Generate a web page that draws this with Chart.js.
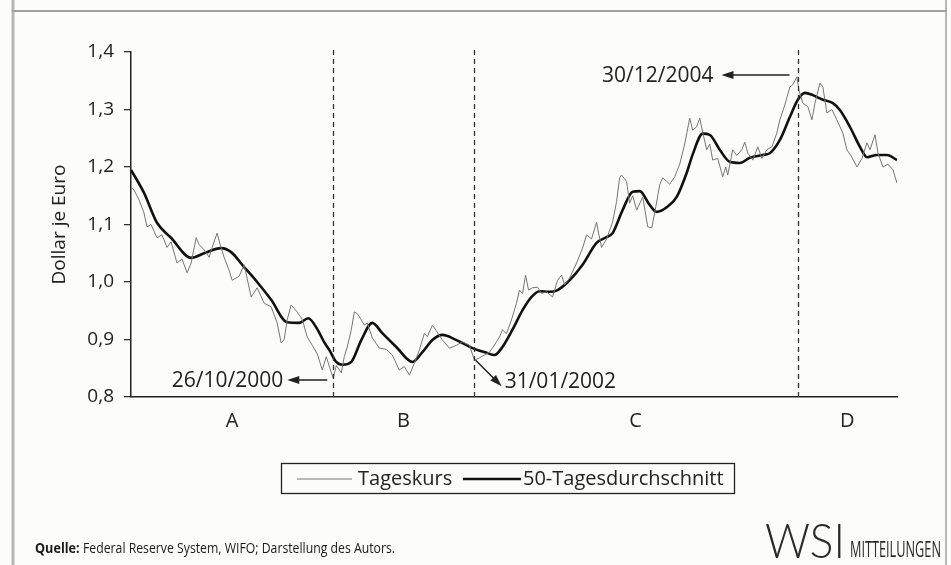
<!DOCTYPE html>
<html>
<head>
<meta charset="utf-8">
<script src="https://cdn.jsdelivr.net/npm/chart.js@4.4.1/dist/chart.umd.min.js"></script>
<style>
  html, body { margin: 0; padding: 0; background: #fcfcfa; }
  #wrap { width: 951px; height: 565px; }
</style>
</head>
<body>
<div id="wrap"><canvas id="chart" width="951" height="565"></canvas></div>
<script>
// Tageskurs (Dollar je Euro), x als Dezimaljahr
const kursJahr = [
  1999.000, 1999.027, 1999.072, 1999.117, 1999.144, 1999.180, 1999.234, 1999.279, 1999.324, 1999.360,
  1999.414, 1999.459, 1999.505, 1999.541, 1999.586, 1999.613, 1999.658, 1999.703, 1999.730, 1999.775,
  1999.802, 1999.838, 1999.883, 1999.910, 1999.973, 2000.018, 2000.081, 2000.135, 2000.198, 2000.261,
  2000.315, 2000.351, 2000.378, 2000.405, 2000.441, 2000.495, 2000.541, 2000.586, 2000.631, 2000.676,
  2000.721, 2000.757, 2000.802, 2000.820, 2000.847, 2000.892, 2000.919, 2000.946, 2000.982, 2001.009,
  2001.036, 2001.072, 2001.099, 2001.126, 2001.171, 2001.234, 2001.297, 2001.351, 2001.414, 2001.459,
  2001.505, 2001.550, 2001.595, 2001.640, 2001.667, 2001.712, 2001.748, 2001.802, 2001.865, 2001.928,
  2001.982, 2002.045, 2002.090, 2002.135, 2002.180, 2002.225, 2002.252, 2002.315, 2002.342, 2002.378,
  2002.423, 2002.468, 2002.495, 2002.523, 2002.550, 2002.577, 2002.613, 2002.658, 2002.694, 2002.739,
  2002.793, 2002.838, 2002.874, 2002.901, 2002.946, 2003.009, 2003.063, 2003.099, 2003.144, 2003.189,
  2003.207, 2003.234, 2003.279, 2003.333, 2003.369, 2003.396, 2003.414, 2003.459, 2003.486, 2003.514,
  2003.550, 2003.604, 2003.649, 2003.685, 2003.712, 2003.757, 2003.784, 2003.820, 2003.847, 2003.892,
  2003.937, 2003.982, 2004.027, 2004.054, 2004.090, 2004.117, 2004.144, 2004.180, 2004.207, 2004.234,
  2004.279, 2004.324, 2004.351, 2004.369, 2004.414, 2004.450, 2004.495, 2004.523, 2004.550, 2004.595,
  2004.640, 2004.676, 2004.721, 2004.766, 2004.811, 2004.838, 2004.883, 2004.928, 2004.955, 2004.991,
  2005.009, 2005.045, 2005.090, 2005.126, 2005.153, 2005.198, 2005.225, 2005.261, 2005.306, 2005.351,
  2005.405, 2005.441, 2005.486, 2005.532, 2005.577, 2005.622, 2005.649, 2005.694, 2005.721, 2005.766,
  2005.811, 2005.856, 2005.892
];
const kursWert = [
  1.165, 1.160, 1.143, 1.120, 1.096, 1.100, 1.077, 1.082, 1.060, 1.070,
  1.033, 1.040, 1.016, 1.033, 1.077, 1.065, 1.056, 1.043, 1.060, 1.085,
  1.065, 1.043, 1.020, 1.003, 1.010, 1.030, 0.974, 0.990, 0.963, 0.957,
  0.929, 0.894, 0.900, 0.934, 0.960, 0.948, 0.935, 0.904, 0.890, 0.875,
  0.847, 0.870, 0.843, 0.833, 0.855, 0.842, 0.870, 0.887, 0.917, 0.948,
  0.945, 0.934, 0.925, 0.929, 0.903, 0.885, 0.883, 0.873, 0.847, 0.853,
  0.838, 0.859, 0.882, 0.911, 0.905, 0.925, 0.915, 0.899, 0.885, 0.890,
  0.896, 0.890, 0.864, 0.868, 0.873, 0.878, 0.885, 0.904, 0.917, 0.910,
  0.934, 0.963, 0.986, 0.980, 1.012, 0.986, 0.990, 0.991, 0.980, 0.983,
  0.974, 1.003, 1.012, 0.995, 1.007, 1.033, 1.059, 1.082, 1.075, 1.104,
  1.085, 1.060, 1.075, 1.104, 1.140, 1.181, 1.186, 1.175, 1.137, 1.150,
  1.125, 1.148, 1.096, 1.094, 1.120, 1.169, 1.181, 1.175, 1.170, 1.183,
  1.205, 1.240, 1.285, 1.264, 1.270, 1.285, 1.260, 1.230, 1.240, 1.212,
  1.215, 1.183, 1.200, 1.186, 1.230, 1.220, 1.230, 1.243, 1.224, 1.212,
  1.235, 1.215, 1.230, 1.235, 1.259, 1.282, 1.308, 1.339, 1.343, 1.357,
  1.334, 1.311, 1.305, 1.282, 1.310, 1.346, 1.339, 1.294, 1.300, 1.282,
  1.259, 1.230, 1.217, 1.200, 1.215, 1.242, 1.230, 1.256, 1.224, 1.200,
  1.205, 1.195, 1.172
];

// 50-Tagesdurchschnitt
const schnittJahr = [
  1999.000, 1999.117, 1999.234, 1999.360, 1999.541, 1999.658, 1999.811, 1999.901, 2000.018, 2000.135,
  2000.261, 2000.405, 2000.514, 2000.595, 2000.676, 2000.739, 2000.784, 2000.847, 2000.901, 2000.982,
  2001.072, 2001.171, 2001.261, 2001.387, 2001.532, 2001.622, 2001.712, 2001.802, 2001.928, 2002.072,
  2002.198, 2002.270, 2002.342, 2002.432, 2002.523, 2002.604, 2002.676, 2002.766, 2002.838, 2002.946,
  2003.063, 2003.189, 2003.279, 2003.333, 2003.423, 2003.514, 2003.577, 2003.667, 2003.730, 2003.820,
  2003.910, 2004.000, 2004.054, 2004.144, 2004.207, 2004.297, 2004.387, 2004.477, 2004.568, 2004.685,
  2004.748, 2004.838, 2004.928, 2005.000, 2005.063, 2005.135, 2005.225, 2005.315, 2005.378, 2005.468,
  2005.559, 2005.622, 2005.712, 2005.802, 2005.892
];
const schnittWert = [
  1.195, 1.155, 1.103, 1.077, 1.042, 1.050, 1.059, 1.052, 1.026, 1.000,
  0.969, 0.930, 0.929, 0.937, 0.918, 0.895, 0.882, 0.861, 0.856, 0.861,
  0.899, 0.929, 0.911, 0.887, 0.861, 0.878, 0.899, 0.908, 0.899, 0.885,
  0.877, 0.873, 0.887, 0.917, 0.951, 0.974, 0.984, 0.983, 0.986, 1.003,
  1.030, 1.068, 1.078, 1.085, 1.125, 1.157, 1.158, 1.134, 1.122, 1.130,
  1.148, 1.190, 1.222, 1.258, 1.256, 1.230, 1.209, 1.207, 1.216, 1.221,
  1.224, 1.247, 1.287, 1.317, 1.329, 1.325, 1.317, 1.311, 1.299, 1.270,
  1.235, 1.217, 1.221, 1.221, 1.212
];

const abschnitte = ['A', 'B', 'C', 'D'];
const abschnittGrenzen = [1999.0, 2000.82, 2002.083, 2004.997, 2005.892];
const markenDatum = ['26/10/2000', '31/01/2002', '30/12/2004'];
const markenJahr = [2000.82, 2002.083, 2004.997];
const markenWert = [0.833, 0.864, 1.36];

const yMin = 0.8, yMax = 1.4, yStep = 0.1;
const quelle = 'Federal Reserve System, WIFO; Darstellung des Autors.';

const FONT = "'Open Sans', 'Noto Sans', sans-serif";

function pfeil(ctx, x1, y1, x2, y2) {
  const a = Math.atan2(y2 - y1, x2 - x1);
  ctx.beginPath();
  ctx.moveTo(x1, y1);
  ctx.lineTo(x2 - 6 * Math.cos(a), y2 - 6 * Math.sin(a));
  ctx.stroke();
  ctx.beginPath();
  ctx.moveTo(x2, y2);
  ctx.lineTo(x2 - 12 * Math.cos(a) + 4 * Math.sin(a), y2 - 12 * Math.sin(a) - 4 * Math.cos(a));
  ctx.lineTo(x2 - 12 * Math.cos(a) - 4 * Math.sin(a), y2 - 12 * Math.sin(a) + 4 * Math.cos(a));
  ctx.closePath();
  ctx.fill();
}

// Text horizontal auf eine Breite stauchen
function textBreite(ctx, text, x, y, breite) {
  const w = ctx.measureText(text).width;
  const f = Math.min(1, breite / w);
  ctx.save();
  ctx.translate(x, y);
  ctx.scale(f, 1);
  ctx.fillText(text, 0, 0);
  ctx.restore();
  return w * f;
}

const rahmen = {
  id: 'rahmen',
  beforeDraw(chart) {
    const ctx = chart.ctx;
    ctx.save();
    ctx.fillStyle = '#fcfcfa';
    ctx.fillRect(0, 0, chart.width, chart.height);
    ctx.strokeStyle = '#b8b8b8';
    ctx.lineWidth = 3;
    ctx.beginPath(); ctx.moveTo(13, 0); ctx.lineTo(13, 565); ctx.stroke();
    ctx.lineWidth = 2;
    ctx.beginPath(); ctx.moveTo(946, 0); ctx.lineTo(946, 565); ctx.stroke();
    ctx.strokeStyle = '#a0a0a0';
    ctx.beginPath(); ctx.moveTo(12, 11); ctx.lineTo(947, 11); ctx.stroke();
    ctx.restore();
  }
};

const beschriftung = {
  id: 'beschriftung',
  afterDraw(chart) {
    const ctx = chart.ctx;
    const xs = chart.scales.x, ys = chart.scales.y;
    const top = ys.getPixelForValue(yMax) - 2, bottom = ys.getPixelForValue(yMin);
    ctx.save();
    // gestrichelte Trennlinien
    ctx.strokeStyle = '#333';
    ctx.lineWidth = 1.3;
    ctx.setLineDash([5, 4]);
    markenJahr.forEach(j => {
      const x = Math.round(xs.getPixelForValue(j)) + 0.5;
      ctx.beginPath(); ctx.moveTo(x, top); ctx.lineTo(x, bottom); ctx.stroke();
    });
    ctx.setLineDash([]);

    // Datumsmarken mit Pfeilen
    ctx.fillStyle = '#222';
    ctx.strokeStyle = '#222';
    ctx.lineWidth = 1.5;
    ctx.font = '21px ' + FONT;
    ctx.textBaseline = 'middle';

    let x = xs.getPixelForValue(markenJahr[0]), y = ys.getPixelForValue(markenWert[0]) + 2;
    pfeil(ctx, x - 6, y, x - 46, y);
    ctx.textAlign = 'right';
    ctx.fillText(markenDatum[0], x - 50, y + 1);

    x = xs.getPixelForValue(markenJahr[1]); y = ys.getPixelForValue(markenWert[1]);
    pfeil(ctx, x + 2, y, x + 28, y + 26);
    ctx.textAlign = 'left';
    ctx.fillText(markenDatum[1], x + 31, y + 22);

    x = xs.getPixelForValue(markenJahr[2]); y = ys.getPixelForValue(markenWert[2]);
    pfeil(ctx, x - 8, y, x - 76, y);
    ctx.textAlign = 'right';
    ctx.fillText(markenDatum[2], x - 84, y + 1);

    // Legende
    const sets = chart.data.datasets;
    ctx.lineWidth = 1.3;
    ctx.strokeStyle = '#222';
    ctx.strokeRect(281.5, 463.5, 453, 30);
    ctx.font = '20px ' + FONT;
    ctx.textAlign = 'left';
    const ly = 479;
    ctx.strokeStyle = sets[0].borderColor; ctx.lineWidth = sets[0].borderWidth;
    ctx.beginPath(); ctx.moveTo(297, ly); ctx.lineTo(352, ly); ctx.stroke();
    ctx.fillStyle = '#222';
    ctx.fillText(sets[0].label, 358, ly);
    ctx.strokeStyle = sets[1].borderColor; ctx.lineWidth = sets[1].borderWidth;
    ctx.beginPath(); ctx.moveTo(463, ly); ctx.lineTo(521, ly); ctx.stroke();
    ctx.fillText(sets[1].label, 523, ly);

    // Quelle
    ctx.fillStyle = '#1a1a1a';
    ctx.font = 'bold 14px ' + FONT;
    const wq = textBreite(ctx, 'Quelle: ', 35, 549, 48);
    ctx.font = '14px ' + FONT;
    textBreite(ctx, quelle, 35 + wq, 549, 395 - 35 - wq);

    // Logo
    ctx.fillStyle = '#2a2a2a';
    ctx.textBaseline = 'alphabetic';
    ctx.font = '300 47px Lato, ' + FONT;
    textBreite(ctx, 'WSI', 765, 558, 80);
    ctx.font = '21px ' + FONT;
    textBreite(ctx, 'MITTEILUNGEN', 850, 557, 91);
    ctx.restore();
  }
};

const ctx = document.getElementById('chart').getContext('2d');
new Chart(ctx, {
  type: 'line',
  data: {
    datasets: [
      {
        label: 'Tageskurs',
        data: kursJahr.map((j, i) => ({ x: j, y: kursWert[i] })),
        borderColor: '#767676',
        borderWidth: 1,
        pointRadius: 0,
        tension: 0
      },
      {
        label: '50-Tagesdurchschnitt',
        data: schnittJahr.map((j, i) => ({ x: j, y: schnittWert[i] })),
        borderColor: '#111',
        borderWidth: 2.6,
        pointRadius: 0,
        cubicInterpolationMode: 'monotone'
      }
    ]
  },
  options: {
    responsive: false,
    animation: false,
    events: [],
    layout: { padding: { left: 0, right: 54, top: 52, bottom: 128 } },
    plugins: { legend: { display: false }, tooltip: { enabled: false } },
    scales: {
      x: {
        type: 'linear',
        min: abschnittGrenzen[0],
        max: abschnittGrenzen[abschnittGrenzen.length - 1],
        grid: { display: false, drawTicks: false },
        border: { display: true, color: '#222', width: 1.5 },
        afterFit(scale) { scale.height = 40; },
        afterBuildTicks(scale) {
          scale.ticks = abschnitte.map((a, i) => ({ value: (abschnittGrenzen[i] + abschnittGrenzen[i + 1]) / 2 }));
        },
        ticks: {
          autoSkip: false,
          maxRotation: 0,
          padding: 12,
          color: '#222',
          font: { family: FONT, size: 20 },
          callback(v, i) { return abschnitte[i]; }
        }
      },
      y: {
        min: yMin,
        max: yMax,
        afterFit(scale) { scale.width = 131; },
        grid: { drawOnChartArea: false, drawTicks: true, tickLength: 7, color: '#333', lineWidth: 1.3 },
        border: { display: true, color: '#222', width: 1.5 },
        ticks: {
          stepSize: yStep,
          padding: 10,
          color: '#222',
          font: { family: FONT, size: 19 },
          callback(v) { return v.toFixed(1).replace('.', ','); }
        },
        title: {
          display: true,
          text: 'Dollar je Euro',
          color: '#222',
          font: { family: FONT, size: 19 },
          padding: { top: 48 }
        }
      }
    }
  },
  plugins: [rahmen, beschriftung]
});
</script>
</body>
</html>
